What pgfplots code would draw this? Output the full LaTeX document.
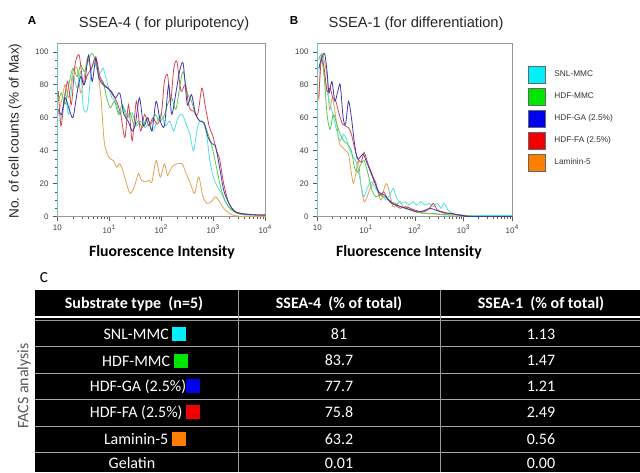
\documentclass[border=0pt]{standalone}
\usepackage{pgfplots}
\pgfplotsset{compat=1.18}
\usepackage{fontspec}
\setmainfont{Liberation Sans}
\newfontfamily\calibri{Carlito}

% line colours (curves) and solid colours (legend / table swatches)
\definecolor{lcyan}{RGB}{80,225,225}
\definecolor{lgreen}{RGB}{80,205,80}
\definecolor{lblue}{RGB}{65,55,175}
\definecolor{lred}{RGB}{210,70,80}
\definecolor{lorange}{RGB}{228,160,85}
\definecolor{scyan}{RGB}{0,240,250}
\definecolor{sgreen}{RGB}{0,230,0}
\definecolor{sblue}{RGB}{0,0,240}
\definecolor{sred}{RGB}{240,0,0}
\definecolor{sorange}{RGB}{255,128,0}

\pgfplotsset{
  facs/.style={
    scale only axis, anchor=south west, height=129.75pt,
    xmin=0, xmax=4, ymin=0, ymax=105,
    axis line style={gray!80},
    tick pos=left, tick align=outside,
    xtick={0,1,2,3,4},
    xticklabels={10,10\textsuperscript{1},10\textsuperscript{2},10\textsuperscript{3},10\textsuperscript{4}},
    minor xtick={0.301,0.477,0.602,0.699,0.778,0.845,0.903,0.954,
                 1.301,1.477,1.602,1.699,1.778,1.845,1.903,1.954,
                 2.301,2.477,2.602,2.699,2.778,2.845,2.903,2.954,
                 3.301,3.477,3.602,3.699,3.778,3.845,3.903,3.954},
    ytick={0,20,40,60,80,100}, minor y tick num=3,
    major tick length=3pt, minor tick length=1.8pt,
    every tick/.style={gray!70!black},
    tick label style={font=\fontsize{6}{7}\selectfont, text=black!75},
    /pgf/number format/assume math mode=true,
    every axis plot/.append style={line width=0.6pt, smooth, tension=0.45},
  },
}

\begin{document}
\begin{tikzpicture}[x=0.75pt,y=-0.75pt]
\useasboundingbox (0,0) rectangle (640,472);

% ---------------- panel A
\begin{axis}[facs, at={(42.98pt,-162.4pt)}, width=156pt]
\addplot[lcyan, line width=0.9pt] coordinates {(0.004,0) (0.004,105)};
\addplot[lorange] coordinates {
(0.02,62) (0.08,70) (0.15,80) (0.22,72) (0.3,88) (0.38,90) (0.45,75) (0.52,85)
(0.58,96) (0.65,90) (0.72,96) (0.78,88) (0.84,72) (0.9,46) (0.96,38) (1.02,35)
(1.08,34) (1.14,30) (1.2,32) (1.26,28) (1.33,20) (1.4,14) (1.48,18) (1.56,26)
(1.62,22) (1.7,21) (1.76,22) (1.82,21) (1.9,34) (1.98,24) (2.06,32) (2.12,25)
(2.2,30) (2.3,32) (2.4,32) (2.48,26) (2.56,20) (2.64,14) (2.72,24) (2.8,12)
(2.88,8) (2.96,9) (3.04,12) (3.12,9) (3.2,5) (3.3,2) (3.42,0.5) (3.6,0) (4,0)};
\addplot[lcyan] coordinates {
(0.02,58) (0.08,60) (0.15,75) (0.22,62) (0.3,85) (0.38,78) (0.45,88) (0.5,66)
(0.58,65) (0.65,88) (0.72,93) (0.8,86) (0.88,90) (0.97,80) (1.05,72) (1.12,70)
(1.2,62) (1.28,66) (1.36,60) (1.44,63) (1.52,55) (1.6,58) (1.68,54) (1.76,56)
(1.84,52) (1.92,58) (2.0,62) (2.08,55) (2.16,58) (2.24,52) (2.32,60) (2.4,62)
(2.48,56) (2.55,50) (2.62,40) (2.7,55) (2.78,58) (2.86,52) (2.93,35) (3.0,24)
(3.08,18) (3.16,14) (3.25,8) (3.35,4) (3.5,2) (3.7,1.5) (3.85,1) (4,1)};
\addplot[lgreen] coordinates {
(0.02,70) (0.08,75) (0.15,68) (0.22,80) (0.3,90) (0.38,85) (0.45,92) (0.52,88)
(0.6,95) (0.66,99) (0.72,96) (0.8,85) (0.88,82) (0.95,72) (1.02,66) (1.1,70)
(1.18,62) (1.25,68) (1.33,60) (1.4,63) (1.48,55) (1.56,58) (1.64,54) (1.72,60)
(1.8,56) (1.88,62) (1.96,58) (2.04,60) (2.12,68) (2.2,72) (2.28,65) (2.36,80)
(2.42,88) (2.5,75) (2.58,70) (2.66,62) (2.74,58) (2.82,57) (2.9,50) (2.98,42)
(3.06,30) (3.14,18) (3.22,10) (3.32,5) (3.45,2) (3.6,1) (3.8,1) (4,0.5)};
\addplot[lred] coordinates {
(0.02,76) (0.07,55) (0.13,70) (0.2,82) (0.27,68) (0.34,92) (0.42,98) (0.5,80)
(0.58,86) (0.66,90) (0.74,97) (0.82,85) (0.9,80) (0.98,78) (1.06,74) (1.14,70)
(1.22,62) (1.3,48) (1.37,68) (1.44,46) (1.52,70) (1.6,52) (1.68,62) (1.76,55)
(1.84,60) (1.92,56) (2.0,62) (2.06,82) (2.12,86) (2.18,70) (2.24,90) (2.3,94)
(2.38,76) (2.46,80) (2.54,66) (2.62,64) (2.7,62) (2.78,78) (2.84,68) (2.92,55)
(3.0,48) (3.06,40) (3.12,35) (3.2,20) (3.3,8) (3.42,3) (3.6,1.5) (3.8,1) (4,1)};
\addplot[lblue] coordinates {
(0.02,65) (0.08,62) (0.15,72) (0.22,66) (0.3,60) (0.38,75) (0.45,85) (0.52,80)
(0.6,98) (0.67,82) (0.74,96) (0.8,84) (0.88,80) (0.96,78) (1.04,76) (1.12,72)
(1.2,75) (1.28,62) (1.36,58) (1.44,52) (1.5,56) (1.58,72) (1.66,55) (1.74,60)
(1.82,52) (1.9,70) (1.98,58) (2.06,55) (2.14,80) (2.2,62) (2.28,75) (2.35,88)
(2.42,93) (2.5,68) (2.58,74) (2.66,62) (2.74,58) (2.82,57) (2.9,48) (2.98,44)
(3.04,43) (3.12,30) (3.2,16) (3.3,8) (3.42,3) (3.6,1.5) (3.8,1) (4,1)};
\end{axis}

% ---------------- panel B
\begin{axis}[facs, at={(237.98pt,-162.4pt)}, width=146.25pt,
  legend style={draw=none, fill=none, at={(1.06,0.89)}, anchor=north west,
    font=\fontsize{6.2}{7}\selectfont, text=black!80, row sep=3.3pt,
    nodes={inner sep=0pt}},
  legend cell align=left,
  legend image code/.code={\draw[#1, draw=black!60, line width=0.4pt] (0pt,-6.4pt) rectangle (12.75pt,6.4pt);},
]
\addplot[lcyan, line width=0.9pt, forget plot] coordinates {(0.004,0) (0.004,105)};
\addplot[lorange, forget plot] coordinates {
(0.03,70) (0.08,98) (0.14,95) (0.2,85) (0.25,65) (0.31,72) (0.38,60) (0.45,45)
(0.52,42) (0.58,40) (0.64,38) (0.69,28) (0.74,20) (0.79,26) (0.84,34) (0.9,18)
(0.96,9) (1.02,12) (1.1,18) (1.18,22) (1.25,14) (1.31,10) (1.37,17) (1.42,20)
(1.48,15) (1.55,6) (1.62,7) (1.7,9) (1.78,5) (1.86,6) (1.95,4) (2.05,3) (2.2,2)
(2.4,1.5) (2.6,1) (2.8,1) (3.0,0.5) (3.3,0) (4,0)};
\addplot[lcyan, forget plot] coordinates {
(0.03,88) (0.1,98) (0.17,80) (0.25,70) (0.32,62) (0.4,52) (0.47,46) (0.54,50)
(0.6,47) (0.67,40) (0.74,36) (0.8,33) (0.88,22) (0.95,12) (1.02,17) (1.1,21)
(1.18,18) (1.26,14) (1.34,12) (1.42,10) (1.5,14) (1.56,17) (1.63,11) (1.72,8)
(1.8,9) (1.88,7) (1.96,9) (2.04,7) (2.12,9) (2.2,7) (2.3,8) (2.38,6) (2.46,8)
(2.54,5) (2.6,8) (2.68,4) (2.76,2) (2.86,1) (3.0,0.8) (3.2,0.6) (4,0.6)};
\addplot[lgreen, forget plot] coordinates {
(0.03,95) (0.08,98) (0.14,85) (0.2,62) (0.26,53) (0.33,62) (0.4,56) (0.47,50)
(0.54,46) (0.62,44) (0.7,40) (0.76,30) (0.82,27) (0.9,32) (0.96,34) (1.04,26)
(1.12,16) (1.2,12) (1.28,13) (1.36,12) (1.44,11) (1.52,9) (1.6,8) (1.7,6)
(1.8,5) (1.9,4) (2.0,3) (2.15,2) (2.3,2) (2.5,1.5) (2.7,1) (2.9,1) (3.1,0.5)
(3.3,0) (4,0)};
\addplot[lred, forget plot] coordinates {
(0.03,72) (0.08,95) (0.14,90) (0.2,76) (0.26,78) (0.32,72) (0.38,70) (0.45,62)
(0.52,56) (0.58,55) (0.64,54) (0.7,50) (0.76,42) (0.82,36) (0.9,33) (0.96,39)
(1.04,32) (1.12,26) (1.2,20) (1.28,13) (1.36,15) (1.44,11) (1.52,8) (1.6,7)
(1.7,5) (1.8,6) (1.9,5) (2.0,4) (2.1,3) (2.2,3) (2.3,5) (2.38,8) (2.46,4)
(2.55,3) (2.68,2) (2.8,1.5) (2.92,1) (3.05,0.5) (3.2,0) (4,0)};
\addplot[lblue, forget plot] coordinates {
(0.03,90) (0.09,96) (0.15,99) (0.2,88) (0.24,75) (0.3,82) (0.36,70) (0.42,76)
(0.47,80) (0.53,60) (0.58,56) (0.64,70) (0.7,60) (0.76,45) (0.82,35) (0.88,36)
(0.94,38) (1.0,34) (1.08,28) (1.16,22) (1.24,16) (1.3,14) (1.38,13) (1.46,10)
(1.54,8) (1.62,7) (1.72,6) (1.82,5) (1.92,4) (2.02,3) (2.12,3) (2.22,4) (2.32,5)
(2.42,4) (2.52,3) (2.62,2) (2.75,2) (2.88,1) (3.0,0.5) (3.1,0) (4,0)};
\addlegendimage{fill=scyan}   \addlegendentry{\hspace{6.5pt}SNL-MMC}
\addlegendimage{fill=sgreen}  \addlegendentry{\hspace{6.5pt}HDF-MMC}
\addlegendimage{fill=sblue}   \addlegendentry{\hspace{6.5pt}HDF-GA (2.5\%)}
\addlegendimage{fill=sred}    \addlegendentry{\hspace{6.5pt}HDF-FA (2.5\%)}
\addlegendimage{fill=sorange} \addlegendentry{\hspace{6.5pt}Laminin-5}
\end{axis}

% ---------------- titles and labels
\node[font=\bfseries\fontsize{8.7}{10}\selectfont] at (32,21) {A};
\node[font=\bfseries\fontsize{8.7}{10}\selectfont] at (294,21) {B};
\node[font=\fontsize{11}{13}\selectfont, text=black!85] at (164,24) {SSEA-4 ( for pluripotency)};
\node[font=\fontsize{11}{13}\selectfont, text=black!85] at (416,24) {SSEA-1 (for differentiation)};
\node[rotate=90, font=\fontsize{10.2}{12}\selectfont, text=black!85] at (15,131) {No. of cell counts (\% of Max)};
\node[font=\calibri\bfseries\fontsize{11.8}{13}\selectfont] at (162,252) {Fluorescence Intensity};
\node[font=\calibri\bfseries\fontsize{11.8}{13}\selectfont] at (409,252) {Fluorescence Intensity};

% ---------------- table C
\node[font=\calibri\fontsize{11.5}{13}\selectfont] at (44,278) {C};
\node[rotate=90, font=\calibri\fontsize{12}{14}\selectfont, text=black!65] at (24,386) {FACS analysis};
\fill[black] (35,290) rectangle (640,472);
\foreach \yy in {346,373.3,399.3,426,452.7} \draw[gray!70, line width=0.75pt] (35,\yy) -- (640,\yy);
\draw[white, line width=1.6pt] (35,317.3) -- (640,317.3);
\draw[gray!80, line width=0.75pt] (35,320.6) -- (640,320.6);
\draw[gray!80, line width=0.75pt] (238,290) -- (238,472);
\draw[gray!80, line width=0.75pt] (440,290) -- (440,472);
\begin{scope}[every node/.style={text=white, font=\calibri\fontsize{12}{14}\selectfont}]
\node[font=\calibri\bfseries\fontsize{12}{14}\selectfont] at (134,303.5) {Substrate type\ \ (n=5)};
\node[font=\calibri\bfseries\fontsize{12}{14}\selectfont] at (339,303.5) {SSEA-4\ \ (\% of total)};
\node[font=\calibri\bfseries\fontsize{12}{14}\selectfont] at (541,303.5) {SSEA-1\ \ (\% of total)};
\node at (145,334) {SNL-MMC \textcolor{scyan}{\raisebox{-1pt}{\rule{10.5pt}{10.5pt}}}};
\node at (145,360.5) {HDF-MMC \textcolor{sgreen}{\raisebox{-1pt}{\rule{10.5pt}{10.5pt}}}};
\node at (145,386.5) {HDF-GA (2.5\%)\textcolor{sblue}{\raisebox{-1pt}{\rule{10.5pt}{10.5pt}}}};
\node at (145,412.5) {HDF-FA (2.5\%) \textcolor{sred}{\raisebox{-1pt}{\rule{10.5pt}{10.5pt}}}};
\node at (145,439) {Laminin-5 \textcolor{sorange}{\raisebox{-1pt}{\rule{10.5pt}{10.5pt}}}};
\node at (132,463) {Gelatin};
\node at (339,334) {81};     \node at (541,334) {1.13};
\node at (339,360.5) {83.7}; \node at (541,360.5) {1.47};
\node at (339,386.5) {77.7}; \node at (541,386.5) {1.21};
\node at (339,412.5) {75.8}; \node at (541,412.5) {2.49};
\node at (339,439) {63.2};   \node at (541,439) {0.56};
\node at (339,463) {0.01};   \node at (541,463) {0.00};
\end{scope}
\end{tikzpicture}
\end{document}
